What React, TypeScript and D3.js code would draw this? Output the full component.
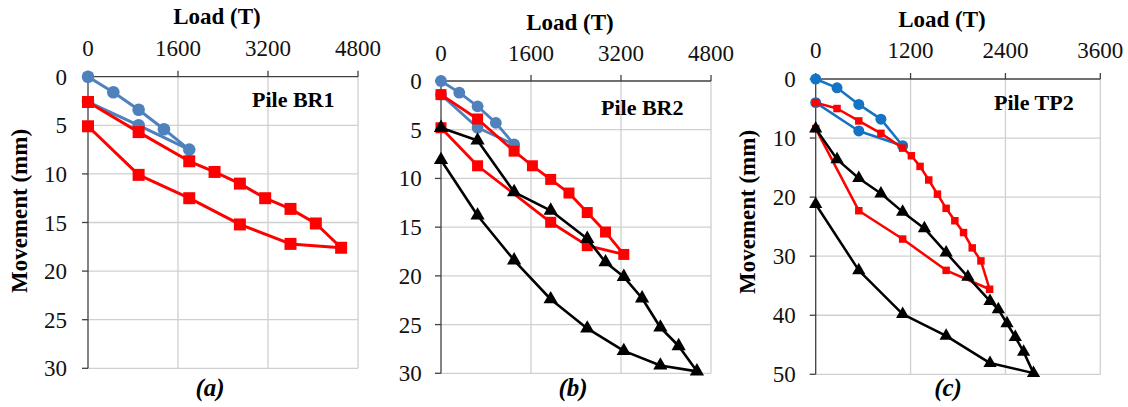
import React from "react";
import * as d3 from "d3";

// ---------- DATA ----------
const loadTicksAB = [0, 1600, 3200, 4800];
const loadTicksC = [0, 1200, 2400, 3600];
const moveTicksAB = [0, 5, 10, 15, 20, 25, 30];
const moveTicksC = [0, 10, 20, 30, 40, 50];

// Pile BR1 (a)
const br1BlueLoad = [0, 450, 900, 1350, 1800, 900, 0];
const br1BlueMove = [0, 1.6, 3.4, 5.4, 7.5, 5.0, 2.6];
const br1RedLoad = [0, 900, 1800, 2250, 2700, 3150, 3600, 4050, 4500, 3600, 2700, 1800, 900, 0];
const br1RedMove = [2.6, 5.7, 8.7, 9.8, 11.0, 12.5, 13.6, 15.1, 17.6, 17.2, 15.2, 12.5, 10.1, 5.1];

// Pile BR2 (b)
const br2BlueLoad = [0, 325, 650, 975, 1300, 650, 0];
const br2BlueMove = [0, 1.2, 2.6, 4.3, 6.5, 4.8, 1.4];
const br2RedLoad = [0, 650, 1300, 1625, 1950, 2275, 2600, 2925, 3250, 2600, 1950, 650, 0];
const br2RedMove = [1.4, 3.9, 7.2, 8.7, 10.1, 11.5, 13.5, 15.5, 17.8, 16.9, 14.5, 8.7, 4.8];
const br2BlackLoad = [0, 650, 1300, 1950, 2600, 2925, 3250, 3575, 3900, 4225, 4550, 3900, 3250, 2600, 1950, 1300, 650, 0];
const br2BlackMove = [4.8, 6.1, 11.4, 13.3, 16.2, 18.6, 20.1, 22.3, 25.3, 27.2, 29.8, 29.2, 27.7, 25.4, 22.4, 18.4, 13.8, 8.1];

// Pile TP2 (c)
const tp2BlueLoad = [0, 270, 545, 825, 1100, 545, 0];
const tp2BlueMove = [0, 1.5, 4.3, 6.8, 11.3, 8.8, 4.0];
const tp2RedLoad = [0, 270, 545, 825, 1100, 1210, 1320, 1430, 1540, 1650, 1760, 1870, 1980, 2090, 2200, 1650, 1100, 545, 0];
const tp2RedMove = [4.0, 5.0, 7.1, 9.2, 11.7, 13.0, 14.8, 17.1, 19.5, 21.9, 24.0, 26.0, 28.6, 30.8, 35.6, 32.4, 27.1, 22.3, 8.4];
const tp2BlackLoad = [0, 270, 545, 825, 1100, 1375, 1650, 1925, 2205, 2310, 2420, 2525, 2630, 2755, 2205, 1650, 1100, 545, 0];
const tp2BlackMove = [8.4, 13.6, 16.8, 19.4, 22.5, 25.3, 29.4, 33.5, 37.6, 39.0, 41.4, 43.7, 46.2, 49.8, 48.1, 43.5, 39.8, 32.4, 21.2];

const panelLabels = ["(a)", "(b)", "(c)"];
const pileNames = ["Pile BR1", "Pile BR2", "Pile TP2"];

// ---------- CHART ----------
type Series = {
  load: number[];
  move: number[];
  color: string;
  symbol: d3.SymbolType;
  size: number;
  width: number;
};

type PanelCfg = {
  x0: number; x1: number; y0: number; y1: number;
  xTicks: number[]; yTicks: number[];
  series: Series[];
  label: string; labelX: number;
  name: string; nameX: number; nameY: number;
  titleX: number; titleY: number; tickY: number; yTickX: number;
  yTitle: boolean; yTitleX: number; yTitleY: number;
};

const FONT = "'Liberation Serif', 'Times New Roman', serif";

function Panel({ c }: { c: PanelCfg }) {
  const x = d3.scaleLinear().domain([c.xTicks[0], c.xTicks[c.xTicks.length - 1]]).range([c.x0, c.x1]);
  const y = d3.scaleLinear().domain([c.yTicks[0], c.yTicks[c.yTicks.length - 1]]).range([c.y0, c.y1]);
  const line = d3.line<[number, number]>().x((d) => x(d[0])).y((d) => y(d[1]));
  const grid = "#d0d0d0";
  const axis = "#404040";
  return (
    <g>
      {c.xTicks.slice(1).map((t) => (
        <line key={"gx" + t} x1={x(t)} x2={x(t)} y1={c.y0} y2={c.y1} stroke={grid} strokeWidth={1.3} />
      ))}
      {c.yTicks.slice(1).map((t) => (
        <line key={"gy" + t} x1={c.x0} x2={c.x1} y1={y(t)} y2={y(t)} stroke={grid} strokeWidth={1.3} />
      ))}
      <line x1={c.x0} x2={c.x1} y1={c.y0} y2={c.y0} stroke={axis} strokeWidth={1.3} />
      <line x1={c.x0} x2={c.x0} y1={c.y0} y2={c.y1} stroke={axis} strokeWidth={1.3} />
      {c.xTicks.map((t) => (
        <line key={"tx" + t} x1={x(t)} x2={x(t)} y1={c.y0} y2={c.y0 - 6} stroke={axis} strokeWidth={1.3} />
      ))}
      {c.yTicks.map((t) => (
        <line key={"ty" + t} x1={c.x0} x2={c.x0 - 6} y1={y(t)} y2={y(t)} stroke={axis} strokeWidth={1.3} />
      ))}
      {c.xTicks.map((t) => (
        <text key={"lx" + t} x={x(t)} y={c.tickY} textAnchor="middle" fontSize={23} fontFamily={FONT} fill="#111">{t}</text>
      ))}
      {c.yTicks.map((t) => (
        <text key={"ly" + t} x={c.yTickX} y={y(t)} dy="0.35em" textAnchor="end" fontSize={23} fontFamily={FONT} fill="#111">{t}</text>
      ))}
      {c.series.map((s, i) => {
        const pts: [number, number][] = s.load.map((l, j) => [l, s.move[j]]);
        const sym = d3.symbol().type(s.symbol).size(s.size)();
        return (
          <g key={"s" + i}>
            <path d={line(pts) || ""} fill="none" stroke={s.color} strokeWidth={s.width} strokeLinejoin="round" />
            {pts.map((p, j) => (
              <path key={j} d={sym || ""} transform={`translate(${x(p[0])},${y(p[1])})`} fill={s.color} />
            ))}
          </g>
        );
      })}
      <text x={c.titleX} y={c.titleY} textAnchor="middle" fontSize={23} fontWeight="bold" fontFamily={FONT}>Load (T)</text>
      {c.yTitle && (
        <text transform={`translate(${c.yTitleX},${c.yTitleY}) rotate(-90)`} textAnchor="middle" fontSize={23} fontWeight="bold" fontFamily={FONT}>Movement (mm)</text>
      )}
      <text x={c.nameX} y={c.nameY} fontSize={22} fontWeight="bold" fontFamily={FONT}>{c.name}</text>
      <text x={c.labelX} y={396} textAnchor="middle" fontSize={25} fontWeight="bold" fontStyle="italic" fontFamily={FONT}>{c.label}</text>
    </g>
  );
}

export default function App() {
  const blueAB = "#4f81bd";
  const blueC = "#1473c4";
  const red = "#ff0000";
  const black = "#000000";
  const panels: PanelCfg[] = [
    {
      x0: 88, x1: 358, y0: 76.7, y1: 368.3,
      xTicks: loadTicksAB, yTicks: moveTicksAB,
      series: [
        { load: br1BlueLoad, move: br1BlueMove, color: blueAB, symbol: d3.symbolCircle, size: 125, width: 3 },
        { load: br1RedLoad, move: br1RedMove, color: red, symbol: d3.symbolSquare, size: 144, width: 3 },
      ],
      label: panelLabels[0], labelX: 210,
      name: pileNames[0], nameX: 252, nameY: 107,
      titleX: 217, titleY: 24, tickY: 56, yTickX: 67,
      yTitle: true, yTitleX: 27, yTitleY: 211,
    },
    {
      x0: 441, x1: 711, y0: 81, y1: 373.3,
      xTicks: loadTicksAB, yTicks: moveTicksAB,
      series: [
        { load: br2BlueLoad, move: br2BlueMove, color: blueAB, symbol: d3.symbolCircle, size: 110, width: 2.8 },
        { load: br2RedLoad, move: br2RedMove, color: red, symbol: d3.symbolSquare, size: 121, width: 2.8 },
        { load: br2BlackLoad, move: br2BlackMove, color: black, symbol: d3.symbolTriangle, size: 88, width: 2.6 },
      ],
      label: panelLabels[1], labelX: 573,
      name: pileNames[1], nameX: 601, nameY: 115,
      titleX: 570, titleY: 30, tickY: 61, yTickX: 421.7,
      yTitle: false, yTitleX: 0, yTitleY: 0,
    },
    {
      x0: 815.7, x1: 1100.3, y0: 79, y1: 374.3,
      xTicks: loadTicksC, yTicks: moveTicksC,
      series: [
        { load: tp2BlueLoad, move: tp2BlueMove, color: blueC, symbol: d3.symbolCircle, size: 95, width: 2.5 },
        { load: tp2RedLoad, move: tp2RedMove, color: red, symbol: d3.symbolSquare, size: 56, width: 2.5 },
        { load: tp2BlackLoad, move: tp2BlackMove, color: black, symbol: d3.symbolTriangle, size: 76, width: 2.5 },
      ],
      label: panelLabels[2], labelX: 948,
      name: pileNames[2], nameX: 994, nameY: 110,
      titleX: 942, titleY: 27, tickY: 58, yTickX: 795.7,
      yTitle: true, yTitleX: 755, yTitleY: 212,
    },
  ];
  return (
    <svg width={1128} height={407} style={{ position: "absolute", left: 0, top: 0, background: "#fff" }}>
      <rect width={1128} height={407} fill="#fff" />
      {panels.map((p, i) => (
        <Panel key={i} c={p} />
      ))}
    </svg>
  );
}
